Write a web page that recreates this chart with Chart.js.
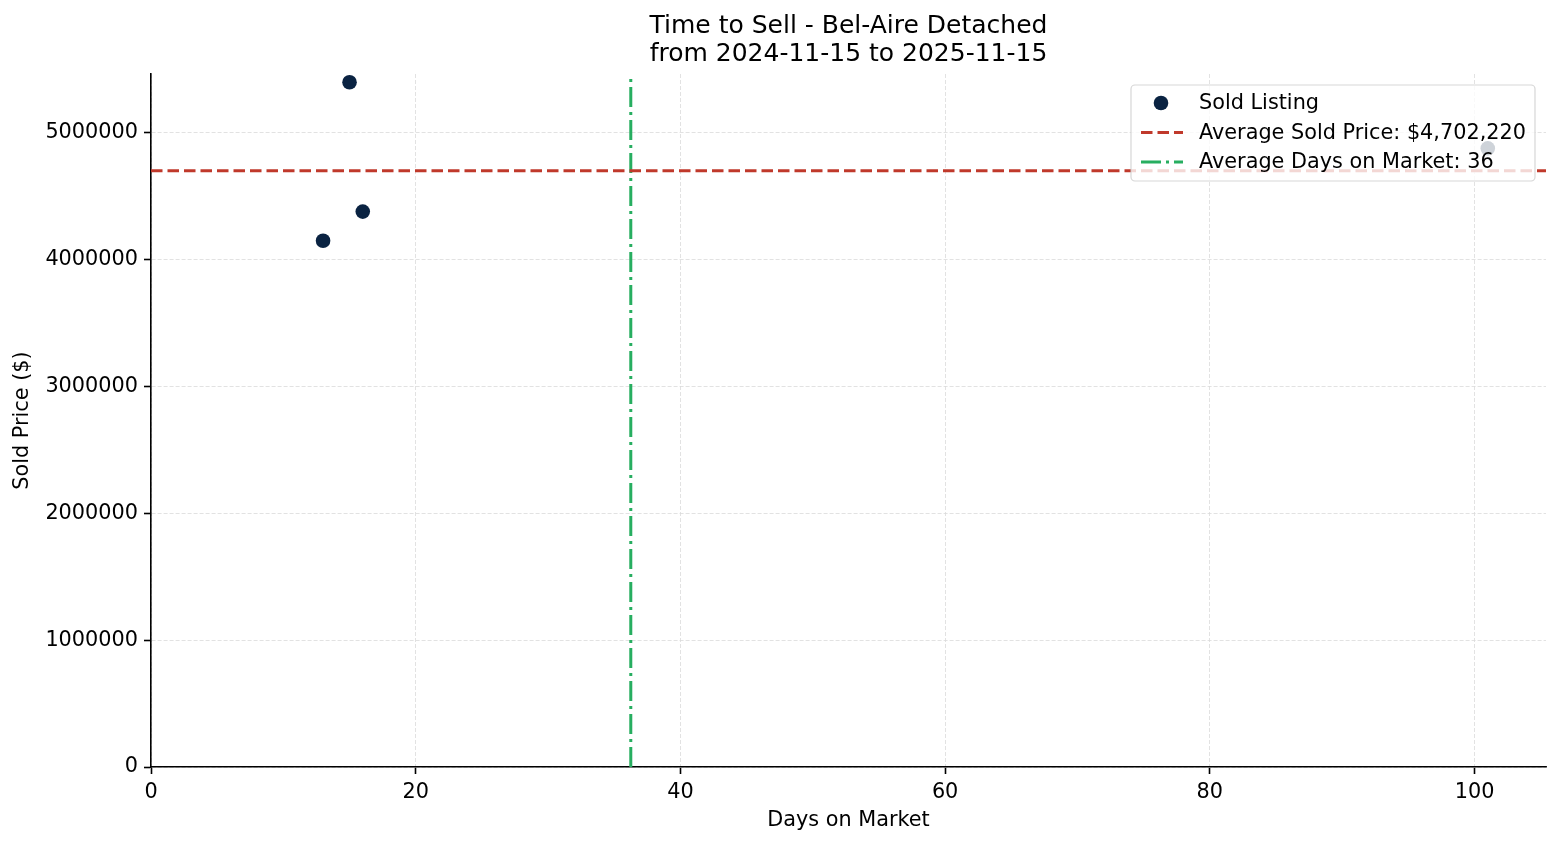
<!DOCTYPE html>
<html>
<head>
<meta charset="utf-8">
<title>Time to Sell - Bel-Aire Detached</title>
<script src="https://cdn.jsdelivr.net/npm/chart.js@4.4.1/dist/chart.umd.min.js"></script>
<style>
  html, body { margin: 0; padding: 0; background: #fff; }
  canvas { display: block; }
</style>
</head>
<body>
<canvas id="grafico" width="1560" height="845"></canvas>
<script>
// dados
const diasNoMercado = [13, 15, 16, 101];
const precoVendido = [4150000, 5400000, 4380000, 4878880];
const ticksX = [0, 20, 40, 60, 80, 100];
const ticksY = [0, 1000000, 2000000, 3000000, 4000000, 5000000];
const tituloLinhas = ["Time to Sell - Bel-Aire Detached", "from 2024-11-15 to 2025-11-15"];
const limiteX = 105.4;
const limiteY = 5465000;

const FONTE = "'DejaVu Sans', sans-serif";
const AZUL = "#0a2342";
const VERMELHO = "#c0392b";
const VERDE = "#27ae60";

const mediaPreco = precoVendido.reduce((a, b) => a + b, 0) / precoVendido.length;
const mediaDias = diasNoMercado.reduce((a, b) => a + b, 0) / diasNoMercado.length;

const pontos = diasNoMercado.map((d, i) => ({ x: d, y: precoVendido[i] }));

// titulo centrado sobre a area do grafico
const tituloPlugin = {
  id: "tituloCentro",
  afterDraw(chart) {
    const ctx = chart.ctx;
    const area = chart.chartArea;
    const cx = (area.left + area.right) / 2;
    ctx.save();
    ctx.font = "25px " + FONTE;
    ctx.fillStyle = "#000";
    ctx.textAlign = "center";
    ctx.textBaseline = "middle";
    tituloLinhas.forEach((linha, i) => {
      ctx.fillText(linha, cx, 26 + i * 28);
    });
    ctx.restore();
  },
};

// legenda desenhada por cima, com fundo semi transparente
const legendaPlugin = {
  id: "legendaDentro",
  afterDraw(chart) {
    const ctx = chart.ctx;
    const x0 = 1131, y0 = 85, w = 404, h = 96;
    ctx.save();
    ctx.beginPath();
    ctx.roundRect(x0, y0, w, h, 4);
    ctx.fillStyle = "rgba(255,255,255,0.8)";
    ctx.fill();
    ctx.lineWidth = 1.2;
    ctx.strokeStyle = "rgba(204,204,204,0.8)";
    ctx.stroke();

    ctx.font = "20.8px " + FONTE;
    ctx.textAlign = "left";
    ctx.textBaseline = "middle";
    chart.data.datasets.forEach((ds, i) => {
      const y = 103 + i * 29.5;
      if (ds.type === "scatter") {
        ctx.beginPath();
        ctx.arc(1161, y, ds.pointRadius, 0, Math.PI * 2);
        ctx.fillStyle = ds.backgroundColor;
        ctx.fill();
      } else {
        ctx.beginPath();
        ctx.setLineDash(ds.borderDash);
        ctx.lineWidth = ds.borderWidth;
        ctx.strokeStyle = ds.borderColor;
        ctx.moveTo(1141, y);
        ctx.lineTo(1183, y);
        ctx.stroke();
        ctx.setLineDash([]);
      }
      ctx.fillStyle = "#000";
      ctx.fillText(ds.label, 1199, y + 1);
    });
    ctx.restore();
  },
};

const eixoComum = {
  grid: {
    color: "#dadada",
    lineWidth: 0.8,
    tickColor: "#000",
    tickLength: 7,
    tickWidth: 1.6,
  },
  border: { display: true, color: "#000", width: 1.6, dash: [4, 2] },
  ticks: { color: "#000", font: { family: FONTE, size: 20.8 }, padding: 6 },
};

new Chart(document.getElementById("grafico"), {
  data: {
    datasets: [
      {
        type: "scatter",
        label: "Sold Listing",
        data: pontos,
        backgroundColor: AZUL,
        borderColor: AZUL,
        pointRadius: 7.3,
        pointHoverRadius: 7.3,
        borderWidth: 0,
        order: 2,
      },
      {
        type: "line",
        label: "Average Sold Price: $" + Math.round(mediaPreco).toLocaleString("en-US"),
        data: [{ x: 0, y: mediaPreco }, { x: limiteX, y: mediaPreco }],
        borderColor: VERMELHO,
        borderWidth: 3,
        borderDash: [11.5, 5],
        pointRadius: 0,
        fill: false,
        order: 1,
      },
      {
        type: "line",
        label: "Average Days on Market: " + Math.round(mediaDias),
        data: [{ x: mediaDias, y: 0 }, { x: mediaDias, y: limiteY }],
        borderColor: VERDE,
        borderWidth: 3,
        borderDash: [20, 5, 3, 5],
        pointRadius: 0,
        fill: false,
        order: 1,
      },
    ],
  },
  options: {
    responsive: false,
    animation: false,
    devicePixelRatio: 1,
    layout: { padding: { top: 74, right: 14, left: 0, bottom: 0 } },
    plugins: {
      legend: { display: false },
      title: { display: false },
      tooltip: { enabled: false },
    },
    scales: {
      x: {
        ...eixoComum,
        type: "linear",
        position: "bottom",
        min: 0,
        max: limiteX,
        afterBuildTicks: (s) => { s.ticks = ticksX.map((v) => ({ value: v })); },
        afterFit: (s) => { s.height = 78; },
        title: {
          display: true,
          text: "Days on Market",
          color: "#000",
          font: { family: FONTE, size: 20.8 },
          padding: { top: 0, bottom: 12 },
        },
      },
      y: {
        ...eixoComum,
        type: "linear",
        position: "left",
        min: 0,
        max: limiteY,
        afterBuildTicks: (s) => { s.ticks = ticksY.map((v) => ({ value: v })); },
        afterFit: (s) => { s.width = 151; },
        ticks: { ...eixoComum.ticks, callback: (v) => String(v) },
        title: {
          display: true,
          text: "Sold Price ($)",
          color: "#000",
          font: { family: FONTE, size: 20.8 },
          padding: { top: 10, bottom: 0 },
        },
      },
    },
  },
  plugins: [tituloPlugin, legendaPlugin],
});
</script>
</body>
</html>
